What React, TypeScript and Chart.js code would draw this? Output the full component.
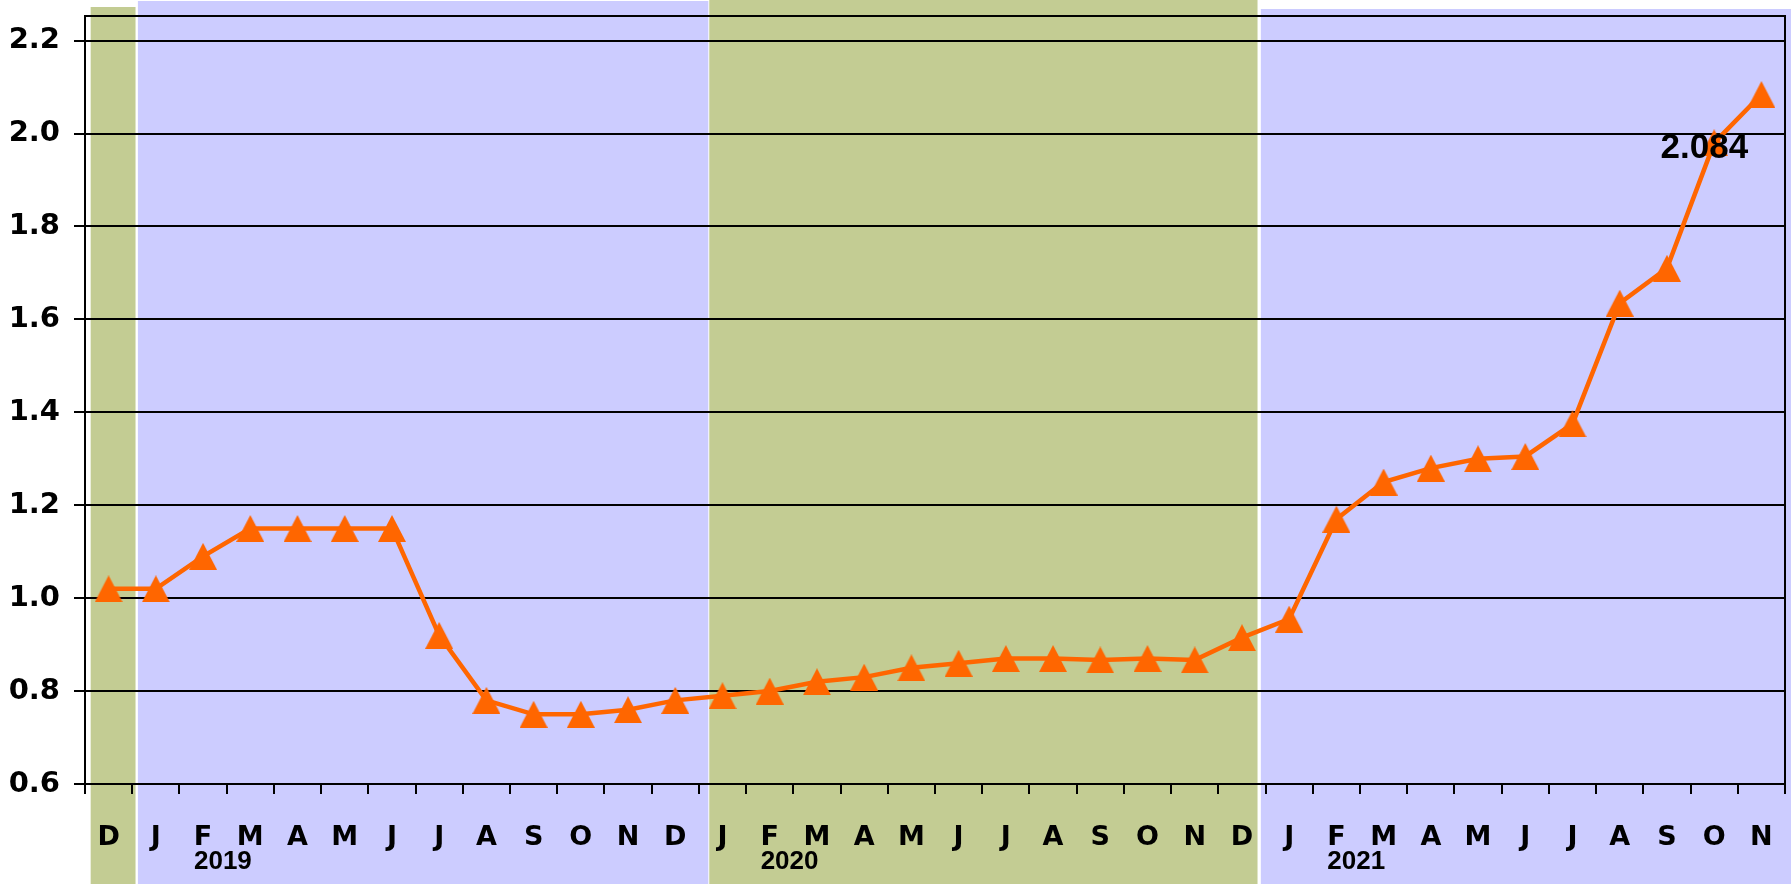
import React, { useEffect, useRef } from "react";
import { Chart, registerables } from "chart.js";

Chart.register(...registerables);

// ---- data ----
const months = [
  "D",
  "J", "F", "M", "A", "M", "J", "J", "A", "S", "O", "N", "D",
  "J", "F", "M", "A", "M", "J", "J", "A", "S", "O", "N", "D",
  "J", "F", "M", "A", "M", "J", "J", "A", "S", "O", "N",
];
const values = [
  1.02,
  1.02, 1.09, 1.15, 1.15, 1.15, 1.15, 0.92, 0.78, 0.75, 0.75, 0.76, 0.78,
  0.79, 0.8, 0.82, 0.83, 0.85, 0.86, 0.87, 0.87, 0.867, 0.87, 0.867, 0.915,
  0.955, 1.17, 1.25, 1.28, 1.3, 1.305, 1.375, 1.635, 1.71, 1.98, 2.084,
];
const yTicks = [0.6, 0.8, 1.0, 1.2, 1.4, 1.6, 1.8, 2.0, 2.2];
const yearLabels = ["2019", "2020", "2021"];
const yearAnchorIndex = [2, 14, 26];
const lastLabel = "2.084";

// year shading periods, in category units
const bandStart = [0.12, 1.12, 13.22, 24.9];
const bandEnd = [1.07, 13.2, 24.83, 37];
const bandColor = ["#C3CC93", "#CCCCFF", "#C3CC93", "#CCCCFF"];
const bandTop = [7, 1, 0, 9];

const ORANGE = "#FF6600";
const LIB = "'Liberation Sans', Arial, sans-serif";
const DJV = "'DejaVu Sans', sans-serif";

export default function App() {
  const ref = useRef<HTMLCanvasElement | null>(null);

  useEffect(() => {
    const canvas = ref.current!;
    const tri = document.createElement("canvas");
    tri.width = 28;
    tri.height = 27;
    const tctx = tri.getContext("2d")!;
    tctx.fillStyle = ORANGE;
    tctx.beginPath();
    tctx.moveTo(14, 0);
    tctx.lineTo(28, 27);
    tctx.lineTo(0, 27);
    tctx.closePath();
    tctx.fill();

    const bands = {
      id: "bands",
      beforeDraw(chart: any) {
        const { ctx } = chart;
        const xs = chart.scales.x;
        const n = months.length;
        ctx.save();
        for (let i = 0; i < bandStart.length; i++) {
          const x0 = xs.getPixelForDecimal(bandStart[i] / n);
          const x1 = Math.min(chart.width, xs.getPixelForDecimal(bandEnd[i] / n));
          ctx.fillStyle = bandColor[i];
          ctx.fillRect(x0, bandTop[i], x1 - x0, chart.height - bandTop[i]);
        }
        ctx.restore();
      },
    };

    const frame = {
      id: "frame",
      afterDraw(chart: any) {
        const { ctx, chartArea: a } = chart;
        ctx.save();
        ctx.strokeStyle = "#000";
        ctx.lineWidth = 2;
        ctx.beginPath();
        ctx.moveTo(a.left, a.top);
        ctx.lineTo(a.right, a.top);
        ctx.lineTo(a.right, a.bottom);
        ctx.stroke();
        // year labels
        const xs = chart.scales.x;
        const cw = (xs.right - xs.left) / months.length;
        ctx.fillStyle = "#000";
        ctx.font = "bold 26px " + LIB;
        ctx.textAlign = "center";
        ctx.textBaseline = "middle";
        for (let i = 0; i < yearLabels.length; i++) {
          const x = xs.getPixelForValue(yearAnchorIndex[i]) + cw * 0.42;
          ctx.fillText(yearLabels[i], x, 862);
        }
        // last value label
        const meta = chart.getDatasetMeta(0);
        const p = meta.data[meta.data.length - 1];
        ctx.font = "bold 35px " + LIB;
        ctx.fillText(lastLabel, p.x - 57, p.y + 54);
        ctx.restore();
      },
    };

    const chart = new Chart(canvas, {
      type: "line",
      data: {
        labels: months,
        datasets: [
          {
            data: values,
            borderColor: ORANGE,
            backgroundColor: ORANGE,
            borderWidth: 4.5,
            pointStyle: tri as any,
            pointRadius: 14,
            tension: 0,
            clip: false as any,
          },
        ],
      },
      options: {
        responsive: false,
        animation: false,
        layout: {
          autoPadding: false,
          padding: { top: 16, right: 6, left: 0, bottom: 0 },
        } as any,
        plugins: { legend: { display: false }, tooltip: { enabled: false } },
        scales: {
          x: {
            type: "category",
            offset: true,
            grid: {
              offset: true,
              drawOnChartArea: false,
              drawTicks: true,
              tickLength: 10,
              color: "#000",
              lineWidth: 2,
            },
            border: { display: true, color: "#000", width: 2 },
            ticks: {
              autoSkip: false,
              maxRotation: 0,
              minRotation: 0,
              padding: 28,
              color: "#000",
              font: { family: DJV, weight: "bold", size: 27 },
            },
            afterFit: (s: any) => {
              s.height = 100;
              s.paddingLeft = 0;
              s.paddingRight = 0;
            },
          },
          y: {
            min: 0.6,
            max: 2.253,
            afterBuildTicks: (s: any) => {
              s.ticks = yTicks.map((v) => ({ value: v }));
            },
            grid: {
              color: "#000",
              lineWidth: 2,
              drawTicks: true,
              tickLength: 11,
            },
            border: { display: true, color: "#000", width: 2 },
            ticks: {
              padding: 14,
              color: "#000",
              font: { family: DJV, weight: "bold", size: 29 },
              callback: (v: any) => Number(v).toFixed(1),
            },
            afterFit: (s: any) => {
              s.width = 85;
              s.paddingTop = 0;
              s.paddingBottom = 0;
            },
          },
        },
      },
      plugins: [bands, frame],
    });
    return () => chart.destroy();
  }, []);

  return (
    <div style={{ position: "absolute", left: 0, top: 0, width: 1791, height: 884 }}>
      <canvas ref={ref} width={1791} height={884} style={{ display: "block" }} />
    </div>
  );
}
